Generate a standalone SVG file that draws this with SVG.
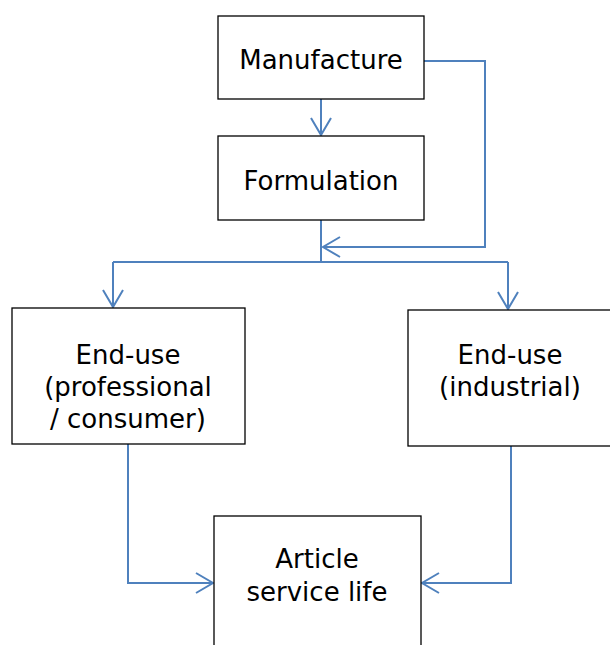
<svg xmlns="http://www.w3.org/2000/svg" width="610" height="645" viewBox="0 0 610 645">
<style>
.box{fill:#fff;stroke:#000;stroke-width:1.3}
.lbl{font-family:"DejaVu Sans",Verdana,sans-serif;font-size:26px;fill:#000;text-anchor:middle}
.con{fill:none;stroke:#4F81BD;stroke-width:2}
</style>
<defs>
<marker id="ah" markerUnits="userSpaceOnUse" markerWidth="22" markerHeight="24" viewBox="-20 -12 22 24" refX="0" refY="0" orient="auto" overflow="visible">
<path d="M-17,-10 L0,0 L-17,10" fill="none" stroke="#4F81BD" stroke-width="2"/>
</marker>
</defs>
<rect width="610" height="645" fill="#fff"/>
<g id="connectors">
<path class="con" d="M321,99 L321,135" marker-end="url(#ah)"/>
<path class="con" d="M424,61 L485,61 L485,247 L323,247" marker-end="url(#ah)"/>
<path class="con" d="M321,220 L321,262"/>
<path class="con" d="M113,262 L508,262"/>
<path class="con" d="M113,262 L113,307" marker-end="url(#ah)"/>
<path class="con" d="M508,262 L508,309" marker-end="url(#ah)"/>
<path class="con" d="M128,444 L128,583 L213,583" marker-end="url(#ah)"/>
<path class="con" d="M511,446 L511,583 L422,583" marker-end="url(#ah)"/>
</g>
<g id="manufacture">
<rect class="box" x="218" y="16" width="206" height="83"/>
<text class="lbl" x="321" y="69">Manufacture</text>
</g>
<g id="formulation">
<rect class="box" x="218" y="136" width="206" height="84"/>
<text class="lbl" x="321" y="190">Formulation</text>
</g>
<g id="enduse-professional">
<rect class="box" x="12" y="308" width="233" height="136"/>
<text class="lbl" x="128" y="364">End-use</text>
<text class="lbl" x="128" y="396">(professional</text>
<text class="lbl" x="128" y="428">/ consumer)</text>
</g>
<g id="enduse-industrial">
<rect class="box" x="408" y="310" width="206" height="136"/>
<text class="lbl" x="510" y="364">End-use</text>
<text class="lbl" x="510" y="396">(industrial)</text>
</g>
<g id="article">
<rect class="box" x="214" y="516" width="207" height="140"/>
<text class="lbl" x="317" y="568">Article</text>
<text class="lbl" x="317" y="601">service life</text>
</g>
</svg>
